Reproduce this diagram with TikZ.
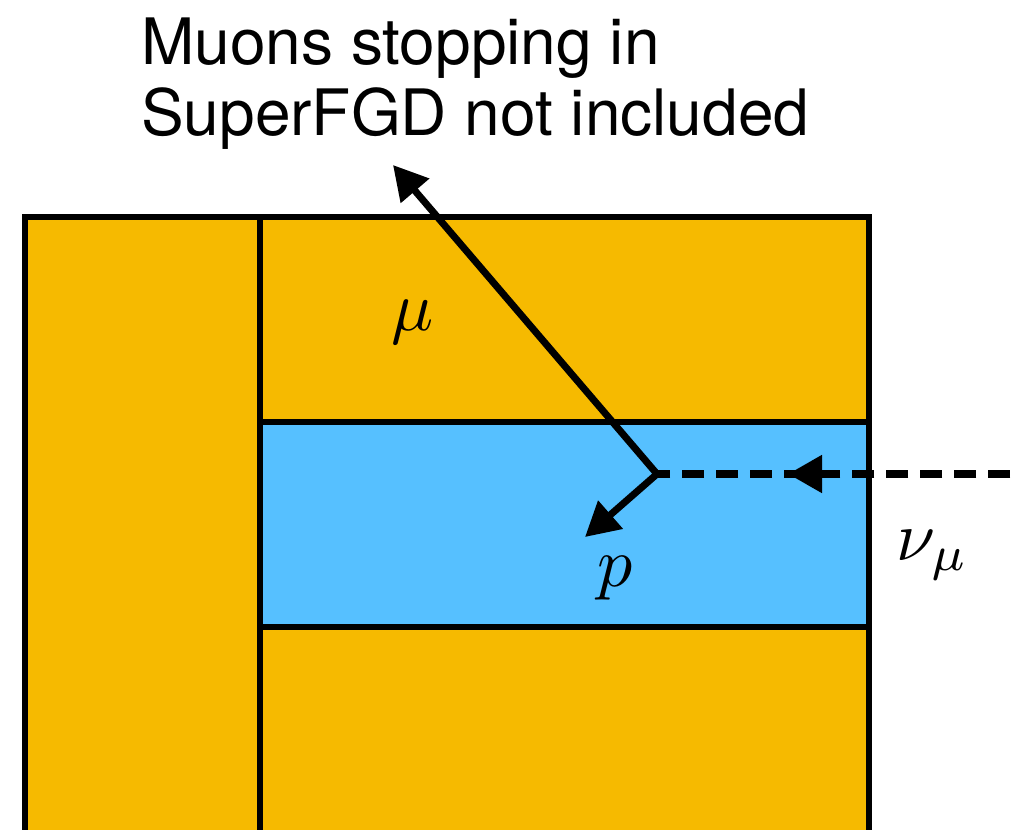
\documentclass[tikz,border=0pt]{standalone}
\usepackage{fontspec}
\setmainfont{TeX Gyre Heros}
\usetikzlibrary{arrows.meta}
\definecolor{detorange}{HTML}{F6BA00}
\definecolor{detblue}{HTML}{56C0FF}
\tikzset{
  box/.style={draw=black, line width=6pt},
  track/.style={line width=7pt, -{Triangle[length=34pt,width=36pt]}},
  nuline/.style={line width=8pt, dash pattern=on 22pt off 12pt},
  titletext/.style={anchor=base west, inner sep=0pt, font=\fontsize{64}{74}\selectfont},
  particle/.style={inner sep=0pt, scale=7}
}
\begin{document}
\begin{tikzpicture}[x=1pt,y=-1pt]
\useasboundingbox (0,0) rectangle (1015,830);
\begin{scope}
\clip (0,0) rectangle (1015,830);
\draw[box, fill=detorange] (25,217) rectangle (260,845);
\draw[box, fill=detorange] (260,217) rectangle (869,422);
\draw[box, fill=detblue] (260,422) rectangle (869,627);
\draw[box, fill=detorange] (260,627) rectangle (869,845);
\end{scope}
\node[titletext] (title1) at (141,64) {Muons stopping in};
\node[titletext] (title2) at (141,135) {SuperFGD not included};
\coordinate (vtx) at (657,474);
\coordinate (nustart) at (1010,474);
\coordinate (numid) at (788,474);
\coordinate (mutip) at (393,165);
\coordinate (ptip) at (585,537);
\draw[nuline] (nustart) -- (vtx);
\draw[nuline, -{Triangle[length=34pt,width=36pt]}] (nustart) -- (numid);
\draw[track] (vtx) -- (mutip);
\draw[track] (vtx) -- (ptip);
\node[particle] (mu) at (413,322) {$\mu$};
\node[particle] (p) at (615,578) {$p$};
\node[particle] (nu) at (933,555) {$\nu_\mu$};
\end{tikzpicture}
\end{document}
